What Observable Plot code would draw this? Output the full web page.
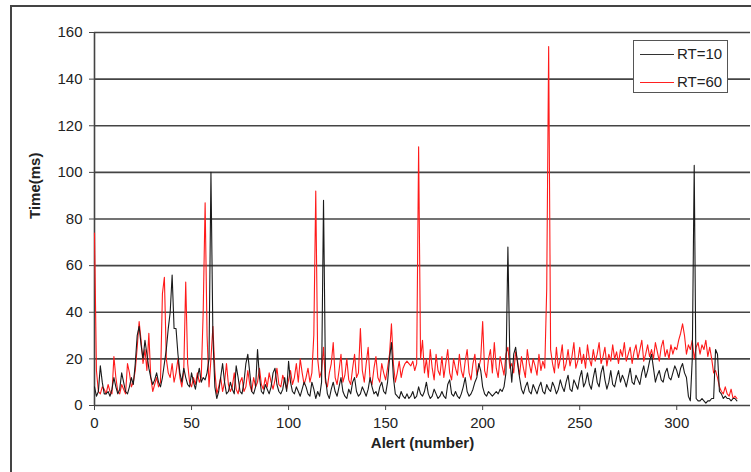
<!DOCTYPE html>
<html>
<head>
<meta charset="utf-8">
<script src="https://cdn.jsdelivr.net/npm/d3@7"></script>
<script src="https://cdn.jsdelivr.net/npm/@observablehq/plot@0.6"></script>
<style>
  html, body { margin: 0; padding: 0; background: #fff; overflow: hidden; }
  #wrap { position: relative; width: 751px; height: 472px; overflow: hidden; font-family: "Liberation Sans", Arial, sans-serif; }
  #frame { position: absolute; left: 10px; top: 5px; width: 800px; height: 520px; border: 2.5px solid #444; box-sizing: border-box; pointer-events: none; }
  #legend { position: absolute; left: 633px; top: 40px; width: 95px; height: 53px; box-sizing: border-box; border: 1px solid #555; background: #fff; }
  .item { position: absolute; left: 0; height: 20px; width: 100%; }
  .item .sw { position: absolute; left: 6px; top: 10px; width: 34px; height: 0; border-top: 1.5px solid; }
  .item .lb { position: absolute; left: 43px; top: 1px; font-size: 15px; color: #222; line-height: 18px; }
</style>
</head>
<body>
<div id="wrap">
  <div id="chart"></div>
  <div id="frame"></div>
  <div id="legend">
    <div class="item" style="top:3px"><div class="sw" style="border-color:#333"></div><div class="lb">RT=10</div></div>
    <div class="item" style="top:31px"><div class="sw" style="border-color:#ff2020"></div><div class="lb">RT=60</div></div>
  </div>
</div>
<script>
const seriesNames = ["RT=10", "RT=60"];
const xTicks = [0, 50, 100, 150, 200, 250, 300];
const yTicks = [0, 20, 40, 60, 80, 100, 120, 140, 160];

const rt10 = [
  8, 4, 6, 17, 10, 5, 5, 6, 4, 7,
  12, 8, 5, 7, 14, 10, 6, 5, 8, 12,
  9, 18, 30, 34, 26, 20, 28, 22, 16, 12,
  9, 11, 14, 10, 8, 12, 18, 24, 33, 40,
  56, 33, 33, 22, 14, 10, 16, 12, 9, 8,
  14, 10, 7, 12, 16, 10, 12, 11, 14, 20,
  100, 30, 8, 3, 6, 12, 18, 10, 5, 6,
  10, 7, 5, 17, 12, 6, 5, 10, 18, 22,
  14, 6, 5, 8, 24, 12, 6, 5, 9, 7,
  5, 8, 14, 16, 9, 6, 5, 7, 12, 6,
  19, 10, 6, 5, 8, 6, 4, 7, 10, 8,
  5, 4, 10, 7, 3, 6, 4, 10, 88, 12,
  5, 3, 7, 10, 6, 4, 8, 12, 6, 4,
  3, 7, 5, 10, 12, 6, 4, 5, 8, 6,
  4, 7, 12, 8, 5, 6, 4, 8, 10, 6,
  5, 10, 20, 27, 12, 5, 4, 3, 6, 4,
  3, 5, 3, 4, 6, 3, 4, 8, 5, 4,
  6, 10, 5, 3, 4, 7, 5, 3, 4, 6,
  4, 3, 9, 11, 5, 4, 6, 4, 3, 5,
  8, 12, 6, 4, 5, 7, 10, 12, 18, 15,
  8, 5, 4, 6, 5, 4, 5, 6, 5, 7,
  6, 8, 14, 68, 20, 10, 22, 25, 18, 12,
  7, 5, 8, 10, 6, 5, 9, 7, 5, 8,
  10, 6, 5, 9, 7, 6, 10, 8, 5, 7,
  11, 8, 6, 10, 13, 7, 6, 11, 9, 7,
  12, 15, 8, 10, 14, 9, 7, 12, 16, 10,
  8, 14, 17, 11, 7, 10, 15, 9, 8, 12,
  15, 10, 13, 11, 8, 12, 16, 10, 9, 13,
  11, 9, 14, 17, 12, 15, 19, 22, 16, 10,
  13, 15, 11, 10, 14, 16, 12, 11, 14, 17,
  15, 12, 16, 18, 14, 12, 4, 2, 20, 103,
  3, 2, 2, 3, 2, 1, 2, 2, 3, 3,
  24, 22, 6, 5, 3, 4, 3, 3, 2, 3,
  3, 2
];

const rt60 = [
  74, 15, 6, 5, 8, 7, 5, 9, 6, 5,
  21, 12, 6, 5, 9, 7, 5, 18, 14, 8,
  10, 15, 25, 36, 28, 18, 24, 15, 31, 12,
  6, 9, 12, 8, 10, 48, 55, 20, 14, 12,
  18, 10, 14, 20, 12, 8, 15, 53, 18, 10,
  8, 12, 9, 14, 10, 12, 40, 87, 30, 8,
  20, 34, 15, 5, 8, 12, 6, 10, 18, 9,
  6, 8, 14, 7, 5, 10, 12, 6, 8, 15,
  9, 6, 12, 8, 10, 16, 9, 7, 12, 8,
  14, 10, 7, 11, 16, 9, 8, 13, 10, 7,
  11, 15, 9, 12, 18, 10, 20, 14, 9, 12,
  16, 10, 14, 30, 92, 20, 12, 15, 25, 10,
  8, 14, 18, 27, 12, 9, 15, 22, 10, 13,
  20, 11, 9, 16, 22, 12, 14, 33, 15, 10,
  18, 25, 11, 9, 16, 21, 12, 10, 18, 14,
  11, 16, 22, 35, 18, 10, 14, 19, 12, 16,
  18, 19, 18, 17, 19, 15, 18, 111, 20, 28,
  14, 20, 12, 24, 16, 11, 22, 15, 13, 21,
  12, 18, 24, 14, 11, 20, 16, 13, 22, 15,
  12, 19, 24, 14, 11, 18, 22, 13, 16, 20,
  36, 15, 12, 20, 24, 14, 27, 16, 12, 21,
  17, 13, 22, 25, 16, 18, 14, 23, 19, 13,
  21, 16, 12, 24, 18, 14, 20, 17, 13, 22,
  15, 19, 16, 50, 154, 24, 18, 14, 25, 16,
  20, 26, 15, 18, 24, 17, 21, 27, 16, 19,
  25, 18, 22, 16, 26, 20, 17, 24, 19, 22,
  27, 18, 21, 25, 17, 22, 19, 26, 20, 23,
  18, 24, 21, 27, 19, 22, 25, 18, 23, 26,
  20, 24, 28, 19, 22, 26, 21, 24, 20, 27,
  23, 19, 25, 28, 21, 24, 20, 26, 22, 25,
  24, 28, 31, 35, 30, 22, 26, 24, 28, 20,
  25, 27, 22, 26, 24, 28, 21, 25, 20, 14,
  15, 12, 8, 6, 5, 8, 5, 4, 7, 3,
  4, 3
];

const d10 = rt10.map((v, i) => ({alert: i, time: v, series: seriesNames[0]}));
const d60 = rt60.map((v, i) => ({alert: i, time: v, series: seriesNames[1]}));

const chart = Plot.plot({
  width: 751,
  height: 472,
  marginLeft: 94,
  marginRight: 1,
  marginTop: 32,
  marginBottom: 67,
  style: {fontFamily: "'Liberation Sans', Arial, sans-serif", fontSize: "15px", color: "#222", background: "transparent", overflow: "visible"},
  x: {domain: [0, 338]},
  y: {domain: [0, 160]},
  marks: [
    Plot.ruleY(yTicks, {stroke: "#444", strokeWidth: 1.6}),
    Plot.ruleX([0], {stroke: "#444", strokeWidth: 1.6}),
    Plot.line(d60, {x: "alert", y: "time", stroke: "#ff1a1a", strokeWidth: 1.1}),
    Plot.line(d10, {x: "alert", y: "time", stroke: "#1a1a1a", strokeWidth: 1.1}),
    Plot.axisX({ticks: xTicks, tickSize: 5, tickPadding: 7, label: null, stroke: "#444", fontSize: 15}),
    Plot.axisY({ticks: yTicks, tickSize: 5, tickPadding: 7, label: null, stroke: "#444", fontSize: 15}),
    Plot.text(["Alert (number)"], {frameAnchor: "bottom", dy: 42, fontWeight: "bold", fontSize: 15, fill: "#222"}),
    Plot.text(["Time(ms)"], {frameAnchor: "left", dx: -59, rotate: -90, fontWeight: "bold", fontSize: 15, fill: "#222"})
  ]
});
document.getElementById("chart").appendChild(chart);
</script>
</body>
</html>
